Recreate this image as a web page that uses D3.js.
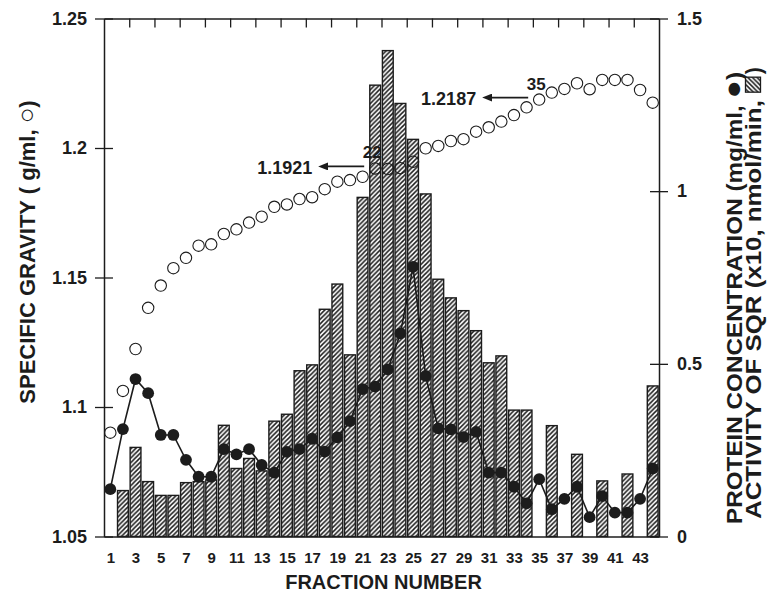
<!DOCTYPE html>
<html>
<head>
<meta charset="utf-8">
<script src="https://cdn.jsdelivr.net/npm/d3@7"></script>
<style>
  body { margin: 0; background: #fff; }
  svg { display: block; font-family: Arial, "Liberation Sans", sans-serif; }
</style>
</head>
<body>
<svg id="chart"></svg>
<script>
// fraction numbers (x categories)
const fractions = [1, 2, 3, 4, 5, 6, 7, 8, 9, 10, 11, 12, 13, 14, 15, 16, 17, 18, 19, 20, 21, 22,
  23, 24, 25, 26, 27, 28, 29, 30, 31, 32, 33, 34, 35, 36, 37, 38, 39, 40, 41, 42, 43, 44];

// specific gravity, g/ml (open circles, left axis)
const specificGravity = [1.0901, 1.1062, 1.1224, 1.1383, 1.1469, 1.1536, 1.1576, 1.1623, 1.1628, 1.1668,
  1.1686, 1.1712, 1.1735, 1.1773, 1.1782, 1.1803, 1.1810, 1.1841, 1.1870, 1.1876, 1.1889, 1.1921,
  1.1919, 1.1922, 1.1947, 1.1999, 1.2008, 1.2027, 1.2034, 1.2063, 1.2080, 1.2102, 1.2127, 1.2157,
  1.2187, 1.2214, 1.2228, 1.2250, 1.2227, 1.2263, 1.2263, 1.2263, 1.2224, 1.2175];

// protein concentration, mg/ml (filled circles, right axis)
const protein = [0.137, 0.311, 0.456, 0.415, 0.294, 0.294, 0.222, 0.173, 0.173, 0.253, 0.238, 0.253,
  0.207, 0.185, 0.245, 0.253, 0.283, 0.246, 0.287, 0.334, 0.427, 0.434, 0.484, 0.588, 0.781, 0.465,
  0.313, 0.310, 0.288, 0.303, 0.185, 0.185, 0.144, 0.096, 0.166, 0.079, 0.109, 0.144, 0.056, 0.117,
  0.069, 0.069, 0.109, 0.197];

// activity of SQR x10 nmol/min (hatched bars, right axis), null = not measured
const activity = [null, 0.133, 0.258, 0.159, 0.119, 0.119, 0.156, 0.159, 0.164, 0.322, 0.197, 0.226,
  0.190, 0.334, 0.354, 0.480, 0.497, 0.658, 0.731, 0.526, 0.982, 1.307, 1.407, 1.254, 1.150, 0.992,
  0.745, 0.691, 0.654, 0.596, 0.503, 0.523, 0.366, 0.366, null, 0.321, null, 0.238, null, 0.161,
  null, 0.181, null, 0.436];

const xTickLabels = [1, 3, 5, 7, 9, 11, 13, 15, 17, 19, 21, 23, 25, 27, 29, 31, 33, 35, 37, 39, 41, 43];
const topTicks = [2.5, 4.5, 6.5, 8.5, 10.5, 12.5, 14.5, 16.5, 18.5, 20.5, 22.5, 24.5, 26.5, 28.5,
  30.5, 32.5, 34.5, 36.5, 38.5, 40.5, 42.5];
const leftTicks = [1.05, 1.1, 1.15, 1.2, 1.25];
const rightTicks = [0, 0.5, 1, 1.5];

// marked fractions with their gravity
const marks = [{ f: 22, label: "1.1921" }, { f: 35, label: "1.2187" }];

const width = 771, height = 597;
const plotLeft = 104, plotRight = 659, plotTop = 18.5, plotBottom = 536.5;
const ink = "#1c1c1c";
const font = "Arial, 'Liberation Sans', sans-serif";

const x = d3.scaleLinear().domain([0.5, 44.5]).range([plotLeft, plotRight]);
const yLeft = d3.scaleLinear().domain([1.05, 1.25]).range([plotBottom, plotTop]);
const yRight = d3.scaleLinear().domain([0, 1.5]).range([plotBottom, plotTop]);

const svg = d3.select("#chart")
    .attr("width", width)
    .attr("height", height);

// hatch pattern for the bars
const defs = svg.append("defs");
const pat = defs.append("pattern")
    .attr("id", "hatch")
    .attr("patternUnits", "userSpaceOnUse")
    .attr("width", 4.6)
    .attr("height", 4.6);
pat.append("rect").attr("width", 4.6).attr("height", 4.6).attr("fill", "#fff");
pat.append("path")
    .attr("d", "M-1,1 l2,-2 M0,4.6 l4.6,-4.6 M3.6,5.6 l2,-2")
    .attr("stroke", ink)
    .attr("stroke-width", 1.5);

// top frame with small ticks
svg.append("g")
    .attr("transform", "translate(0," + plotTop + ")")
    .call(d3.axisBottom(x).tickValues(topTicks).tickSize(9).tickSizeOuter(0).tickFormat(""))
    .call(g => g.selectAll("path, line").attr("stroke", ink).attr("stroke-width", 1.3));

// bars
const barW = 10.8;
svg.append("g").selectAll("rect")
    .data(fractions.map((f, i) => ({ f, v: activity[i] })).filter(d => d.v != null))
    .join("rect")
    .attr("x", d => x(d.f) - barW / 2)
    .attr("y", d => yRight(d.v))
    .attr("width", barW)
    .attr("height", d => plotBottom - yRight(d.v))
    .attr("fill", "url(#hatch)")
    .attr("stroke", ink)
    .attr("stroke-width", 1.4);

// protein line + filled circles
svg.append("path")
    .datum(fractions.map((f, i) => [f, protein[i]]))
    .attr("fill", "none")
    .attr("stroke", ink)
    .attr("stroke-width", 1.6)
    .attr("d", d3.line().x(d => x(d[0])).y(d => yRight(d[1])));

svg.append("g").selectAll("circle")
    .data(fractions.map((f, i) => [f, protein[i]]))
    .join("circle")
    .attr("cx", d => x(d[0]))
    .attr("cy", d => yRight(d[1]))
    .attr("r", 5.9)
    .attr("fill", ink);

// specific gravity open circles
svg.append("g").selectAll("circle")
    .data(fractions.map((f, i) => [f, specificGravity[i]]))
    .join("circle")
    .attr("cx", d => x(d[0]))
    .attr("cy", d => yLeft(d[1]))
    .attr("r", 5.7)
    .attr("fill", "none")
    .attr("stroke", ink)
    .attr("stroke-width", 1.1);

// bottom axis
svg.append("g")
    .attr("transform", "translate(0," + plotBottom + ")")
    .call(d3.axisBottom(x).tickValues(xTickLabels).tickSize(0).tickSizeOuter(0).tickPadding(16))
    .call(g => g.select(".domain").attr("stroke", ink).attr("stroke-width", 1.5))
    .call(g => g.selectAll("text").attr("fill", ink).attr("font-size", 15).attr("font-weight", "bold")
        .attr("font-family", font));

// left axis
svg.append("g")
    .attr("transform", "translate(" + plotLeft + ",0)")
    .call(d3.axisLeft(yLeft).tickValues(leftTicks).tickSize(9).tickSizeOuter(0).tickPadding(8)
        .tickFormat(d3.format("")))
    .call(g => g.select(".domain").attr("stroke", ink).attr("stroke-width", 1.5))
    .call(g => g.selectAll(".tick line").attr("x1", 9).attr("x2", -9).attr("stroke", ink).attr("stroke-width", 1.3))
    .call(g => g.selectAll("text").attr("fill", ink).attr("font-size", 18).attr("font-weight", "bold")
        .attr("font-family", font));

// right axis
svg.append("g")
    .attr("transform", "translate(" + plotRight + ",0)")
    .call(d3.axisRight(yRight).tickValues(rightTicks).tickSize(9).tickSizeOuter(0).tickPadding(9)
        .tickFormat(d3.format("")))
    .call(g => g.select(".domain").attr("stroke", ink).attr("stroke-width", 1.5))
    .call(g => g.selectAll(".tick line").attr("x1", -9).attr("x2", 9).attr("stroke", ink).attr("stroke-width", 1.3))
    .call(g => g.selectAll("text").attr("fill", ink).attr("font-size", 18).attr("font-weight", "bold")
        .attr("font-family", font));

// annotations with arrows
defs.append("marker")
    .attr("id", "arrow")
    .attr("viewBox", "0 0 10 8")
    .attr("refX", 1).attr("refY", 4)
    .attr("markerWidth", 10).attr("markerHeight", 8)
    .attr("markerUnits", "userSpaceOnUse")
    .attr("orient", "auto")
    .append("path").attr("d", "M10,4 L0,0 L0,8 Z").attr("fill", ink);

marks.forEach(m => {
  const gy = specificGravity[fractions.indexOf(m.f)];
  const cx = x(m.f), cy = yLeft(gy);
  svg.append("line")
      .attr("x1", cx - 11).attr("y1", cy - 2)
      .attr("x2", cx - 48).attr("y2", cy - 2)
      .attr("stroke", ink).attr("stroke-width", 1.8)
      .attr("marker-end", "url(#arrow)");
  svg.append("text")
      .attr("x", cx - 63).attr("y", cy + 5.5)
      .attr("text-anchor", "end")
      .attr("font-size", 18).attr("font-weight", "bold").attr("fill", ink)
      .text(m.label);
  svg.append("text")
      .attr("x", cx - 3).attr("y", cy - 10)
      .attr("text-anchor", "middle")
      .attr("font-size", 17).attr("font-weight", "bold").attr("fill", ink)
      .text(m.f);
});

// axis titles
svg.append("text")
    .attr("x", width / 2 - 2).attr("y", 589)
    .attr("text-anchor", "middle")
    .attr("font-size", 20).attr("font-weight", "bold").attr("fill", ink)
    .text("FRACTION NUMBER");

const lt = svg.append("text")
    .attr("transform", "translate(35,252) rotate(-90)")
    .attr("text-anchor", "middle")
    .attr("font-size", 22).attr("font-weight", "bold").attr("fill", ink);
lt.append("tspan").text("SPECIFIC GRAVITY ( g/ml, ");
lt.append("tspan").attr("font-size", 26).attr("font-weight", "normal").text("\u25CB");
lt.append("tspan").text(")");

// right titles: the scanned lettering is wider than Arial, so stretch to length
const titleLen = 452;
const rt = svg.append("text")
    .attr("transform", "translate(742,298) rotate(-90)")
    .attr("text-anchor", "middle")
    .attr("font-size", 21.5).attr("font-weight", "bold").attr("fill", ink)
    .attr("textLength", titleLen).attr("lengthAdjust", "spacingAndGlyphs");
rt.append("tspan").text("PROTEIN CONCENTRATION (mg/ml, ");
rt.append("tspan").attr("font-size", 27).attr("font-weight", "normal").text("\u25CF");
rt.append("tspan").text(")");

const g2 = svg.append("g").attr("transform", "translate(761,293) rotate(-90)");
const tA = g2.append("text")
    .attr("font-size", 21.5).attr("font-weight", "bold").attr("fill", ink)
    .text("ACTIVITY OF SQR (x10, nmol/min,");
const tB = g2.append("text")
    .attr("font-size", 21.5).attr("font-weight", "bold").attr("fill", ink)
    .text(")");
const lenB = tB.node().getComputedTextLength();
const box = 15, gap = 8;
const lenA = titleLen - (gap + box + 3 + lenB);
tA.attr("x", -titleLen / 2).attr("textLength", lenA).attr("lengthAdjust", "spacingAndGlyphs");
g2.append("rect")
    .attr("x", -titleLen / 2 + lenA + gap).attr("y", -box - 0.5)
    .attr("width", box).attr("height", box)
    .attr("fill", "url(#hatch)").attr("stroke", ink).attr("stroke-width", 1.3);
tB.attr("x", -titleLen / 2 + lenA + gap + box + 3);
</script>
</body>
</html>
